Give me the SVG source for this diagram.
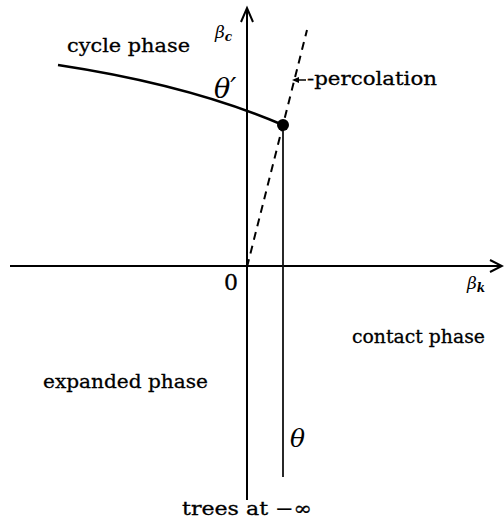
<svg xmlns="http://www.w3.org/2000/svg" width="504" height="523" viewBox="0 0 504 523">
<style>
.t{font-family:"DejaVu Serif","Liberation Serif",serif;font-size:19px;fill:#000;stroke:#000;stroke-width:0.3}
.m{font-family:"DejaVu Serif","Liberation Serif",serif;font-style:italic;fill:#000}
.ax{stroke:#000;stroke-width:2;fill:none}
</style>
<rect width="504" height="523" fill="#fff"/>
<g id="connectors">
<path class="ax" d="M10,266 H500"/>
<path d="M490,260 L502,266 L490,272" fill="none" stroke="#000" stroke-width="2"/>
<path class="ax" d="M247,500 V10"/>
<path d="M241,22 L247,8 L253,22" fill="none" stroke="#000" stroke-width="2"/>
<path d="M283,125 V477" stroke="#111" stroke-width="1.8" fill="none"/>
<path d="M58,65 Q190,85 283,125" stroke="#000" stroke-width="2.5" fill="none"/>
<path d="M247,267 L307,30" stroke="#000" stroke-width="2" stroke-dasharray="8,6" fill="none"/>
<path d="M306,80 H294" stroke="#000" stroke-width="1.5"/>
<path d="M299,77 L292,80 L299,83 Z" fill="#000"/>
</g>
<g id="critical-point"><circle cx="283" cy="125" r="6" fill="#000"/></g>
<g id="labels">
<text class="t" x="67" y="52" textLength="123" lengthAdjust="spacingAndGlyphs">cycle phase</text>
<text class="t" x="307" y="85" textLength="130" lengthAdjust="spacingAndGlyphs">-percolation</text>
<text class="t" x="352" y="343" textLength="133" lengthAdjust="spacingAndGlyphs">contact phase</text>
<text class="t" x="43" y="388" textLength="165" lengthAdjust="spacingAndGlyphs">expanded phase</text>
<text class="t" x="182" y="515" textLength="130" lengthAdjust="spacingAndGlyphs">trees at −∞</text>
<text class="t" x="224" y="290" style="font-size:22px">0</text>
<text class="m" x="214" y="98" style="font-size:27px">θ′</text>
<text class="m" x="290" y="447" style="font-size:25px">θ</text>
<text class="m" x="215" y="38" style="font-size:17px">β<tspan style="font-size:12px;font-weight:bold" dy="3">c</tspan></text>
<text class="m" x="467" y="289" style="font-size:17px">β<tspan style="font-size:12px;font-weight:bold" dy="3">k</tspan></text>
</g>
</svg>
